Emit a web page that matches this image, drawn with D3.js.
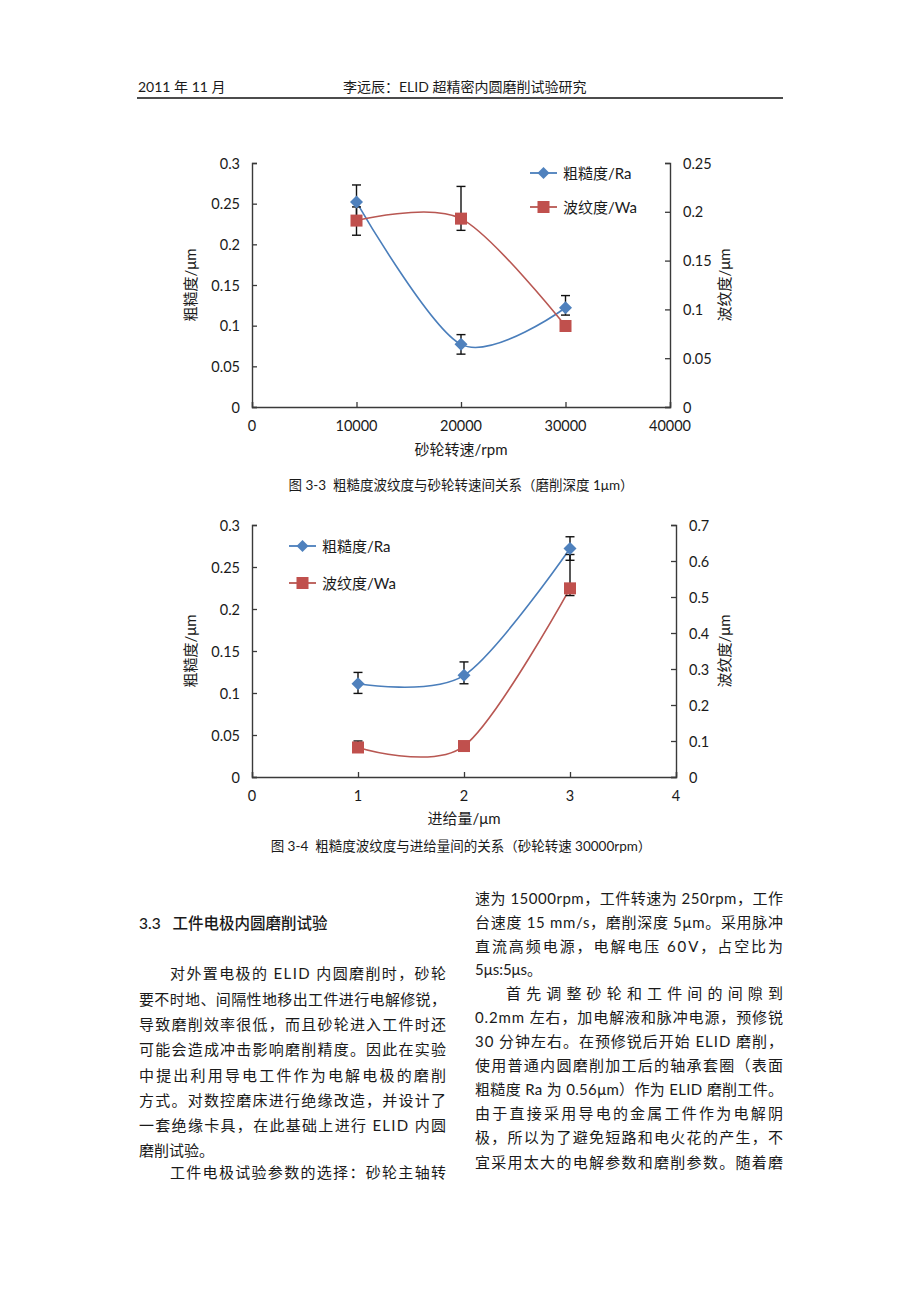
<!DOCTYPE html>
<html>
<head>
<meta charset="utf-8">
<script src="https://cdn.jsdelivr.net/npm/d3@7"></script>
<style>
  html, body { margin: 0; padding: 0; background: #fff; }
  svg { display: block; }
  text { font-family: "Lato", "Noto Sans CJK SC", sans-serif; fill: #1a1a1a; white-space: pre; }
</style>
</head>
<body>
<svg id="page" width="920" height="1302"></svg>
<script>
// ---------- Chart 3-3 data ----------
const speeds = [10000, 20000, 30000];
const ra1    = [0.252, 0.077, 0.122];
const ra1Lo  = [0.232, 0.065, 0.113];
const ra1Hi  = [0.273, 0.089, 0.137];
const wa1    = [0.191, 0.193, 0.083];
const wa1Lo  = [0.176, 0.181, 0.083];
const wa1Hi  = [0.205, 0.226, 0.083];
const xTicks1 = [0, 10000, 20000, 30000, 40000];
const yLeftTicks1 = [0, 0.05, 0.1, 0.15, 0.2, 0.25, 0.3];
const yRightTicks1 = [0, 0.05, 0.1, 0.15, 0.2, 0.25];

// ---------- Chart 3-4 data ----------
const feeds = [1, 2, 3];
const ra2   = [0.111, 0.121, 0.272];
const ra2Lo = [0.0995, 0.111, 0.258];
const ra2Hi = [0.1245, 0.137, 0.286];
const wa2   = [0.082, 0.086, 0.524];
const wa2Lo = [0.075, 0.086, 0.504];
const wa2Hi = [0.100, 0.086, 0.618];
const xTicks2 = [0, 1, 2, 3, 4];
const yLeftTicks2 = [0, 0.05, 0.1, 0.15, 0.2, 0.25, 0.3];
const yRightTicks2 = [0, 0.1, 0.2, 0.3, 0.4, 0.5, 0.6, 0.7];

const seriesNames = ["粗糙度/Ra", "波纹度/Wa"];
const leftTitle = "粗糙度/μm";
const rightTitle = "波纹度/μm";

const svg = d3.select("#page");
svg.append("rect").attr("width", 920).attr("height", 1302).attr("fill", "#fff");

const RA_COLOR = "#4F81BD", RA_LINE = "#4a7ebb";
const WA_COLOR = "#C0504D", WA_LINE = "#b85752";
const AXIS = "#3a3a3a";

function drawChart(o) {
  const g = svg.append("g");
  const x = d3.scaleLinear().domain(o.xDomain).range([o.left, o.right]);
  const yL = d3.scaleLinear().domain(o.yLDomain).range([o.bottom, o.top]);
  const yR = d3.scaleLinear().domain(o.yRDomain).range([o.bottom, o.top]);

  const axL = g.append("g").attr("transform", `translate(${o.left},0)`)
    .call(d3.axisRight(yL).tickValues(o.yLTicks).tickSize(5).tickFormat(""));
  const axR = g.append("g").attr("transform", `translate(${o.right},0)`)
    .call(d3.axisLeft(yR).tickValues(o.yRTicks).tickSize(5).tickFormat(""));
  const axB = g.append("g").attr("transform", `translate(0,${o.bottom})`)
    .call(d3.axisTop(x).tickValues(o.xTicks).tickSize(5).tickFormat(""));
  [axL, axR, axB].forEach(a => {
    a.selectAll("path").attr("stroke", AXIS).attr("stroke-width", 1.4);
    a.selectAll("line").attr("stroke", AXIS).attr("stroke-width", 1.3);
  });

  g.selectAll(".tl").data(o.yLTicks).enter().append("text")
    .attr("x", o.left - 12).attr("y", d => yL(d)).attr("text-anchor", "end")
    .attr("dominant-baseline", "central").attr("font-size", 14.5).text(d => String(d));
  g.selectAll(".tr").data(o.yRTicks).enter().append("text")
    .attr("x", o.right + 13).attr("y", d => yR(d)).attr("text-anchor", "start")
    .attr("dominant-baseline", "central").attr("font-size", 14.5).text(d => String(d));
  g.selectAll(".tb").data(o.xTicks).enter().append("text")
    .attr("x", d => x(d)).attr("y", o.bottom + 18).attr("text-anchor", "middle")
    .attr("dominant-baseline", "central").attr("font-size", 14.5).text(d => String(d));

  const mid = (o.top + o.bottom) / 2;
  g.append("text").attr("transform", `translate(190,${mid}) rotate(-90)`)
    .attr("text-anchor", "middle").attr("dominant-baseline", "central")
    .attr("font-size", 15).text(leftTitle);
  g.append("text").attr("transform", `translate(724,${mid}) rotate(-90)`)
    .attr("text-anchor", "middle").attr("dominant-baseline", "central")
    .attr("font-size", 15).text(rightTitle);
  g.append("text").attr("x", (o.left + o.right) / 2).attr("y", o.xTitleY)
    .attr("text-anchor", "middle").attr("dominant-baseline", "central")
    .attr("font-size", 15).text(o.xTitle);

  const line = d3.line().curve(d3.curveCardinal.tension(0.1));
  const raPts = o.xs.map((v, i) => [x(v), yL(o.ra[i])]);
  const waPts = o.xs.map((v, i) => [x(v), yR(o.wa[i])]);
  g.append("path").attr("d", line(raPts)).attr("fill", "none")
    .attr("stroke", RA_LINE).attr("stroke-width", 1.6);
  g.append("path").attr("d", line(waPts)).attr("fill", "none")
    .attr("stroke", WA_LINE).attr("stroke-width", 1.6);

  function errBars(lo, hi, sc) {
    o.xs.forEach((v, i) => {
      if (hi[i] === lo[i]) return;
      const cx = x(v), y1 = sc(hi[i]), y2 = sc(lo[i]);
      g.append("line").attr("x1", cx).attr("x2", cx).attr("y1", y1).attr("y2", y2)
        .attr("stroke", "#111").attr("stroke-width", 1.4);
      [y1, y2].forEach(yy => g.append("line").attr("x1", cx - 4.5).attr("x2", cx + 4.5)
        .attr("y1", yy).attr("y2", yy).attr("stroke", "#111").attr("stroke-width", 1.4));
    });
  }
  errBars(o.raLo, o.raHi, yL);
  errBars(o.waLo, o.waHi, yR);

  function diamond(cx, cy, r) {
    return `M${cx},${cy - r}L${cx + r},${cy}L${cx},${cy + r}L${cx - r},${cy}Z`;
  }
  waPts.forEach(p => g.append("rect").attr("x", p[0] - 6).attr("y", p[1] - 6)
    .attr("width", 12).attr("height", 12).attr("fill", WA_COLOR));
  raPts.forEach(p => g.append("path").attr("d", diamond(p[0], p[1], 6.5)).attr("fill", RA_COLOR));

  const lg = o.legend;
  [0, 1].forEach(i => {
    const yy = lg.ys[i];
    const col = i === 0 ? RA_LINE : WA_LINE;
    g.append("line").attr("x1", lg.x).attr("x2", lg.x + 27).attr("y1", yy).attr("y2", yy)
      .attr("stroke", col).attr("stroke-width", 1.8);
    const mx = lg.x + 13.5;
    if (i === 0) g.append("path").attr("d", diamond(mx, yy, 6)).attr("fill", RA_COLOR);
    else g.append("rect").attr("x", mx - 6).attr("y", yy - 6).attr("width", 12).attr("height", 12).attr("fill", WA_COLOR);
    g.append("text").attr("x", lg.x + 33).attr("y", yy).attr("dominant-baseline", "central")
      .attr("font-size", 15).text(seriesNames[i]);
  });

  svg.append("text").attr("x", 461).attr("y", o.captionY).attr("text-anchor", "middle")
    .attr("dominant-baseline", "central").attr("font-size", 13.5).text(o.caption);
}

drawChart({
  left: 252, right: 670, top: 163, bottom: 407,
  xDomain: [0, 40000], yLDomain: [0, 0.3], yRDomain: [0, 0.25],
  xTicks: xTicks1, yLTicks: yLeftTicks1, yRTicks: yRightTicks1,
  xs: speeds, ra: ra1, raLo: ra1Lo, raHi: ra1Hi, wa: wa1, waLo: wa1Lo, waHi: wa1Hi,
  xTitle: "砂轮转速/rpm", xTitleY: 449,
  legend: { x: 530, ys: [173, 207] },
  caption: "图 3-3  粗糙度波纹度与砂轮转速间关系（磨削深度 1μm）", captionY: 485
});

drawChart({
  left: 252, right: 676, top: 525, bottom: 777,
  xDomain: [0, 4], yLDomain: [0, 0.3], yRDomain: [0, 0.7],
  xTicks: xTicks2, yLTicks: yLeftTicks2, yRTicks: yRightTicks2,
  xs: feeds, ra: ra2, raLo: ra2Lo, raHi: ra2Hi, wa: wa2, waLo: wa2Lo, waHi: wa2Hi,
  xTitle: "进给量/μm", xTitleY: 818,
  legend: { x: 289, ys: [546, 583] },
  caption: "图 3-4  粗糙度波纹度与进给量间的关系（砂轮转速 30000rpm）", captionY: 846
});

// ---------- page header ----------
svg.append("text").attr("x", 138).attr("y", 86).attr("dominant-baseline", "central")
  .attr("font-size", 14).text("2011 年 11 月");
svg.append("text").attr("x", 343).attr("y", 86).attr("dominant-baseline", "central")
  .attr("font-size", 14).text("李远辰：ELID 超精密内圆磨削试验研究");
svg.append("line").attr("x1", 137).attr("x2", 783).attr("y1", 98).attr("y2", 98)
  .attr("stroke", "#111").attr("stroke-width", 1.6);

// ---------- body text ----------
svg.append("text").attr("x", 139).attr("y", 923).attr("dominant-baseline", "central")
  .attr("font-size", 15.5).attr("font-weight", 500).text("3.3   工件电极内圆磨削试验");

const leftLines = [
  ["对外置电极的 ELID 内圆磨削时，砂轮", 973, true, true],
  ["要不时地、间隔性地移出工件进行电解修锐，", 999, false, true],
  ["导致磨削效率很低，而且砂轮进入工件时还", 1024, false, true],
  ["可能会造成冲击影响磨削精度。因此在实验", 1049, false, true],
  ["中提出利用导电工件作为电解电极的磨削", 1075, false, true],
  ["方式。对数控磨床进行绝缘改造，并设计了", 1100, false, true],
  ["一套绝缘卡具，在此基础上进行 ELID 内圆", 1125, false, true],
  ["磨削试验。", 1150, false, false],
  ["工件电极试验参数的选择：砂轮主轴转", 1172, true, true]
];
const rightLines = [
  ["速为 15000rpm，工件转速为 250rpm，工作", 898, false, true],
  ["台速度 15 mm/s，磨削深度 5μm。采用脉冲", 922, false, true],
  ["直流高频电源，电解电压 60V，占空比为", 946, false, true],
  ["5μs:5μs。", 969, false, false],
  ["首先调整砂轮和工件间的间隙到", 993, true, true],
  ["0.2mm 左右，加电解液和脉冲电源，预修锐", 1017, false, true],
  ["30 分钟左右。在预修锐后开始 ELID 磨削，", 1041, false, true],
  ["使用普通内圆磨削加工后的轴承套圈（表面", 1065, false, true],
  ["粗糙度 Ra 为 0.56μm）作为 ELID 磨削工件。", 1089, false, true],
  ["由于直接采用导电的金属工件作为电解阴", 1113, false, true],
  ["极，所以为了避免短路和电火花的产生，不", 1137, false, true],
  ["宜采用太大的电解参数和磨削参数。随着磨", 1162, false, true]
];
function drawCol(lines, x0, x1) {
  lines.forEach(([t, y, indent, just]) => {
    const sx = indent ? x0 + 31 : x0;
    const tx = svg.append("text").attr("x", sx).attr("y", y)
      .attr("dominant-baseline", "central").attr("font-size", 15).text(t);
    if (just) tx.attr("textLength", x1 - sx).attr("lengthAdjust", "spacing");
  });
}
drawCol(leftLines, 139, 446);
drawCol(rightLines, 475, 783);
</script>
</body>
</html>
